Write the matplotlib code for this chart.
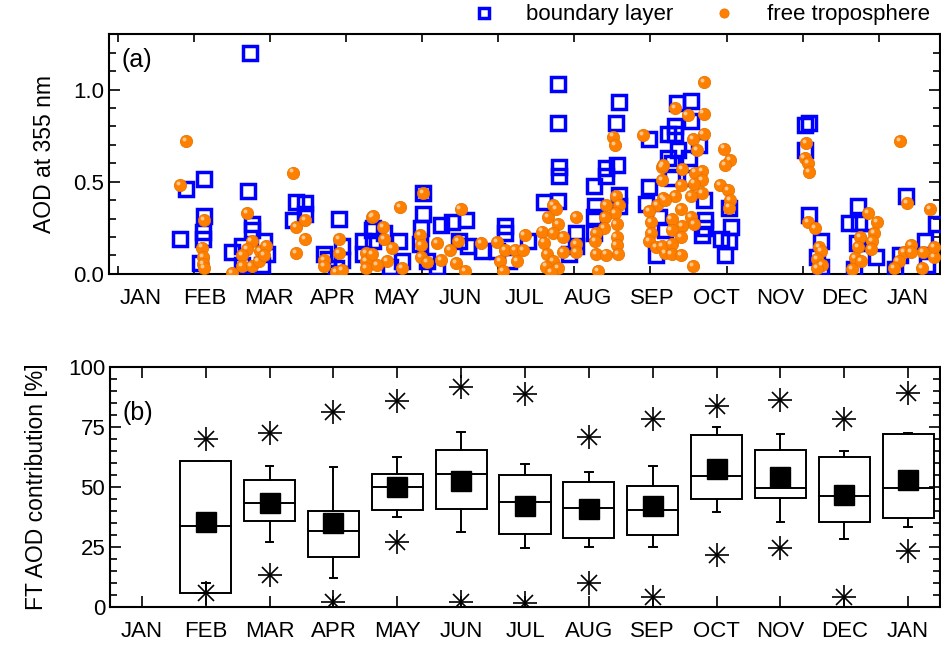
import numpy as np
import matplotlib
matplotlib.use("Agg")
import matplotlib.pyplot as plt
from matplotlib.transforms import offset_copy

plt.rcParams['font.family'] = ['Liberation Sans', 'DejaVu Sans']

# month labels (0 = JAN, 12 = JAN of following year)
months = ['JAN', 'FEB', 'MAR', 'APR', 'MAY', 'JUN', 'JUL', 'AUG', 'SEP',
          'OCT', 'NOV', 'DEC', 'JAN']

# (a) AOD at 355 nm, time in month units
bl_t = [1.70, 0.71, 0.98, 0.61, 0.98, 0.97, 0.97, 0.92, 1.67, 1.73, 1.73, 1.43,
        1.58, 1.93, 1.97, 1.90, 1.58, 2.42, 2.56, 2.38, 2.57, 2.87, 2.92, 3.10,
        3.14, 3.14, 3.05, 3.48, 3.61, 3.48,
        4.41, 4.41, 4.38, 4.36, 4.47, 4.63, 4.70, 4.86, 5.09, 4.97, 5.12, 5.33,
        3.63, 3.63, 3.80, 4.03, 4.09, 3.90, 5.70, 5.70, 5.57, 5.75, 6.06, 6.30,
        6.53, 6.53, 6.54, 6.54, 6.52, 6.69, 6.80, 6.80, 7.48, 7.43, 7.45, 7.27,
        7.27, 7.08, 7.10, 7.09, 7.09, 7.48, 7.48, 7.94, 7.94, 7.90, 8.06, 8.25,
        8.25, 8.10,
        8.61, 8.38, 8.35, 8.35, 8.60, 8.40, 8.57, 8.73, 8.30, 8.30, 8.60, 8.80,
        8.82, 8.77, 8.82, 8.20, 9.08, 9.13, 9.20, 9.23, 9.20, 10.38, 10.45,
        10.38, 10.45, 10.64, 10.58, 10.64, 11.22, 11.08, 11.23, 11.20, 11.32,
        11.50, 11.15, 11.97, 11.87, 11.80, 12.27, 12.30, 12.44]
bl_aod = [1.20, 0.46, 0.515, 0.19, 0.315, 0.23, 0.19, 0.06, 0.45, 0.27, 0.24, 0.12,
          0.15, 0.18, 0.107, 0.05, 0.05, 0.39, 0.385, 0.29, 0.325, 0.107, 0.08, 0.30,
          0.15, 0.075, 0.03, 0.18, 0.24, 0.107,
          0.44, 0.325, 0.25, 0.16, 0.07, 0.035, 0.265, 0.28, 0.29, 0.18, 0.15, 0.125,
          0.25, 0.18, 0.22, 0.18, 0.07, 0.04, 0.26, 0.22, 0.125, 0.07, 0.18, 0.39,
          1.03, 0.82, 0.58, 0.53, 0.395, 0.107, 0.22, 0.15, 0.935, 0.82, 0.59, 0.575,
          0.53, 0.475, 0.37, 0.31, 0.22, 0.43, 0.37, 0.73, 0.47, 0.38, 0.105, 0.76,
          0.63, 0.31,
          0.94, 0.925, 0.80, 0.76, 0.83, 0.67, 0.63, 0.70, 0.60, 0.52, 0.52, 0.40,
          0.29, 0.21, 0.25, 0.24, 0.19, 0.105, 0.36, 0.255, 0.18, 0.805, 0.82,
          0.67, 0.32, 0.18, 0.09, 0.035, 0.37, 0.275, 0.275, 0.17, 0.20,
          0.09, 0.025, 0.425, 0.105, 0.025, 0.18, 0.05, 0.27]

ft_t = [0.71, 0.61, 0.98, 0.95, 0.97, 0.97, 0.98, 1.43, 1.66, 1.73, 1.66, 1.58,
        1.58, 1.73, 1.84, 1.87, 1.95, 1.92, 2.38, 2.42, 2.56, 2.56, 2.42, 2.87,
        2.87, 3.05, 3.14, 3.10, 3.10, 3.61, 3.52, 3.52, 3.61, 3.52,
        3.63, 3.78, 4.05, 4.41, 4.36, 4.38, 4.38, 4.47, 4.63, 4.70, 5.00, 4.96,
        4.84, 4.93, 5.07, 3.80, 3.93, 3.85, 3.70, 4.09, 5.32, 5.57, 5.62, 5.70,
        5.85, 5.88, 5.66, 6.00, 5.98, 6.27, 6.37, 6.45, 6.50, 6.52, 6.45, 6.30,
        6.35, 6.45, 6.33, 6.52, 6.42, 6.60, 6.80, 6.80, 6.80, 6.60, 7.38, 7.41,
        7.43, 7.48, 7.42, 7.27, 7.26, 7.44, 7.25, 7.44, 7.44, 7.47, 7.12, 7.10,
        7.12, 7.27, 7.15, 7.86, 8.15, 8.15, 8.17, 8.07, 7.95, 7.98, 7.98, 7.95,
        8.06, 8.20, 8.15,
        8.81, 8.36, 8.55, 8.80, 8.80, 8.63, 8.70, 9.12, 9.22, 9.14, 8.17, 8.46,
        8.78, 8.67, 8.78, 8.65, 8.45, 9.06, 9.19, 9.22, 9.20, 8.78, 8.60, 8.35,
        8.20, 8.45, 8.60, 8.30, 8.47, 8.65, 8.30, 8.45, 8.30, 8.30, 8.45, 8.64,
        10.41, 10.38, 10.43, 10.45, 10.43, 10.54, 10.60, 10.64, 10.58, 10.66,
        10.58, 11.38, 11.51, 11.47, 11.25, 11.44, 11.22, 11.42, 11.17, 11.27,
        11.12, 11.88, 11.99, 12.34, 11.93, 12.05, 12.05, 12.23, 11.85, 11.78,
        12.22, 12.40, 12.40]
ft_aod = [0.72, 0.48, 0.29, 0.143, 0.09, 0.055, 0.03, 0.004, 0.33, 0.18, 0.135, 0.10,
          0.045, 0.045, 0.07, 0.125, 0.15, 0.10, 0.55, 0.255, 0.29, 0.19, 0.115, 0.075,
          0.045, 0.01, 0.02, 0.19, 0.115, 0.31, 0.115, 0.07, 0.11, 0.03,
          0.315, 0.255, 0.365, 0.44, 0.21, 0.155, 0.09, 0.065, 0.165, 0.075, 0.35, 0.18,
          0.13, 0.06, 0.015, 0.19, 0.14, 0.07, 0.05, 0.03, 0.165, 0.175, 0.07, 0.13,
          0.13, 0.07, 0.015, 0.21, 0.13, 0.23, 0.31, 0.375, 0.35, 0.27, 0.22, 0.17,
          0.11, 0.07, 0.04, 0.03, 0.01, 0.20, 0.31, 0.16, 0.12, 0.12, 0.745, 0.70,
          0.42, 0.375, 0.33, 0.375, 0.31, 0.27, 0.25, 0.20, 0.155, 0.11, 0.22, 0.18,
          0.11, 0.105, 0.015, 0.755, 0.58, 0.51, 0.41, 0.375, 0.34, 0.28, 0.22, 0.18,
          0.145, 0.115, 0.15,
          1.04, 0.90, 0.86, 0.87, 0.76, 0.73, 0.67, 0.68, 0.62, 0.59, 0.59, 0.57,
          0.56, 0.55, 0.51, 0.49, 0.48, 0.48, 0.455, 0.40, 0.36, 0.44, 0.42, 0.42,
          0.40, 0.35, 0.31, 0.30, 0.26, 0.27, 0.24, 0.20, 0.16, 0.11, 0.10, 0.045,
          0.71, 0.63, 0.60, 0.555, 0.28, 0.25, 0.145, 0.125, 0.08, 0.05,
          0.03, 0.33, 0.28, 0.22, 0.20, 0.18, 0.145, 0.135, 0.085, 0.07,
          0.025, 0.72, 0.385, 0.35, 0.12, 0.155, 0.12, 0.12, 0.07, 0.03,
          0.03, 0.09, 0.145]

# (b) FT AOD contribution statistics per month (FEB .. JAN)
box_pos = list(range(1, 13))
q25 = [5.7, 35.7, 21.0, 40.4, 40.7, 30.3, 28.6, 30.0, 45.1, 45.6, 35.4, 37.1]
q75 = [60.8, 53.1, 40.1, 55.6, 65.6, 55.1, 52.0, 50.4, 71.8, 65.6, 62.6, 72.2]
med = [33.9, 43.2, 31.7, 50.1, 55.6, 43.75, 41.25, 40.3, 54.4, 49.6, 46.4, 49.7]
mean = [35.3, 43.2, 35.1, 50.0, 52.4, 42.2, 40.7, 41.9, 57.5, 54.0, 46.8, 53.1]
w_lo = [10.1, 27.2, 12.1, 37.4, 31.4, 24.4, 25.0, 25.0, 39.6, 35.4, 28.2, 33.2]
w_hi = [61.0, 58.9, 58.2, 62.5, 72.9, 59.7, 56.25, 58.6, 75.0, 72.2, 64.9, 72.5]
p_lo = [5.7, 13.5, 2.2, 27.1, 2.2, 1.5, 10.1, 4.3, 21.7, 24.4, 4.3, 23.3]
p_hi = [69.9, 72.6, 81.4, 85.8, 91.8, 88.75, 71.0, 78.5, 83.9, 86.4, 78.3, 89.3]

TICK_FS = 16
LABEL_FS = 16.5

fig = plt.figure(figsize=(9.41, 6.46), dpi=100)
ax1 = fig.add_axes([0.1158, 0.576, 0.8832, 0.371])
ax2 = fig.add_axes([0.1169, 0.0604, 0.8821, 0.3716])

# ---- panel (a)
ax1.plot(bl_t, bl_aod, 's', ls='none', mfc='none', mec='#0000ff', mew=2.5,
         ms=9.5, label='boundary layer', zorder=3)
ax1.plot(ft_t, ft_aod, 'o', ls='none', mfc='#ff8000', mec='#e87400', mew=0.6,
         ms=8.8, label='free troposphere', zorder=4)
# little highlight for the sphere look
hl = offset_copy(ax1.transData, fig=fig, x=-1.5, y=1.5, units='points')
ax1.plot(ft_t, ft_aod, 'o', ls='none', mfc='#ffc890', mec='none', ms=2.8,
         transform=hl, zorder=5)

ax1.set_xlim(-0.5, 12.5)
ax1.set_ylim(0, 1.3)
ax1.set_yticks([0.0, 0.5, 1.0])
ax1.set_yticklabels(['0.0', '0.5', '1.0'])
ax1.set_yticks(np.arange(0, 1.31, 0.1), minor=True)
ax1.set_xticks(range(13))
ax1.set_xticklabels(months)
ax1.tick_params(axis='x', which='major', length=0, pad=10, labelsize=TICK_FS)
ax1.set_xticks(-0.36 + 1.19 * np.arange(11), minor=True)
ax1.tick_params(axis='x', which='minor', direction='in', length=6, width=1.2,
                top=True, bottom=True)
ax1.tick_params(axis='y', which='major', direction='in', length=8, width=1.2,
                left=True, right=True, labelsize=TICK_FS)
ax1.tick_params(axis='y', which='minor', direction='in', length=5, width=1.2,
                left=True, right=True)
ax1.set_ylabel('AOD at 355 nm', fontsize=LABEL_FS, labelpad=12)
ax1.text(0.015, 0.865, '(a)', transform=ax1.transAxes, fontsize=18)
for s in ax1.spines.values():
    s.set_linewidth(1.5)
ax1.legend(loc='lower right', bbox_to_anchor=(0.998, 1.0), ncol=2, frameon=False,
           fontsize=TICK_FS, handletextpad=1.4, columnspacing=1.8, borderaxespad=0,
           handlelength=1.0, markerscale=0.75)

# ---- panel (b)
hw = 0.4
for i, p in enumerate(box_pos):
    ax2.add_patch(plt.Rectangle((p - hw, q25[i]), 2 * hw, q75[i] - q25[i],
                                fill=False, ec='black', lw=1.4, zorder=2))
    ax2.plot([p - hw, p + hw], [med[i], med[i]], color='black', lw=1.4, zorder=2)
    ax2.plot([p, p], [q75[i], w_hi[i]], color='black', lw=1.4, zorder=2)
    ax2.plot([p, p], [q25[i], w_lo[i]], color='black', lw=1.4, zorder=2)
    ax2.plot([p - 0.06, p + 0.06], [w_hi[i], w_hi[i]], color='black', lw=1.4)
    ax2.plot([p - 0.06, p + 0.06], [w_lo[i], w_lo[i]], color='black', lw=1.4)
ax2.plot(box_pos, mean, 's', ls='none', color='black', ms=14, zorder=3)
for mk, sz in [('+', 17), ('x', 12)]:
    ax2.plot(box_pos, p_hi, mk, ls='none', color='black', ms=sz, mew=1.2, zorder=3)
    ax2.plot(box_pos, p_lo, mk, ls='none', color='black', ms=sz, mew=1.2, zorder=3)

ax2.set_xlim(-0.5, 12.5)
ax2.set_ylim(0, 100)
ax2.set_xticks(range(13))
ax2.set_xticklabels(months)
ax2.set_yticks([0, 25, 50, 75, 100])
ax2.set_yticks(np.arange(0, 101, 5), minor=True)
ax2.tick_params(axis='x', which='major', direction='in', length=8, width=1.2,
                top=True, bottom=True, pad=10, labelsize=TICK_FS)
ax2.tick_params(axis='y', which='major', direction='in', length=8, width=1.2,
                left=True, right=True, labelsize=TICK_FS)
ax2.tick_params(axis='y', which='minor', direction='in', length=5, width=1.2,
                left=True, right=True)
ax2.set_ylabel('FT AOD contribution [%]', fontsize=LABEL_FS, labelpad=14)
ax2.text(0.015, 0.78, '(b)', transform=ax2.transAxes, fontsize=18)
for s in ax2.spines.values():
    s.set_linewidth(1.5)

fig.savefig('out.png', dpi=100)
